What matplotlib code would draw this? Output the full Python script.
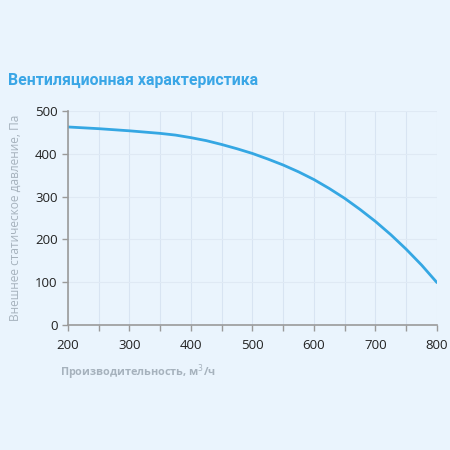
import matplotlib.pyplot as plt
import numpy as np

# Values
flow = [200, 250, 300, 350, 375, 400, 425, 450, 475, 500, 525, 550, 575, 600,
        625, 650, 675, 700, 725, 750, 775, 800]
pressure = [463, 459, 454, 448, 444, 438, 431, 422, 412, 401, 388, 374, 358,
            340, 319, 296, 270, 242, 211, 177, 140, 99]

bg = '#eaf4fd'
blue = '#35a7e3'
grey_txt = '#a6b2bd'

plt.rcParams['font.family'] = ['Open Sans', 'DejaVu Sans']

fig = plt.figure(figsize=(4.5, 4.5), dpi=100, facecolor=bg)
ax = fig.add_axes([0.151, 0.278, 0.82, 0.475], facecolor=bg)

ax.plot(flow, pressure, color=blue, lw=2.0, solid_capstyle='round',
        solid_joinstyle='round')

ax.set_xlim(200, 800)
ax.set_ylim(0, 500)
ax.set_xticks(np.arange(200, 801, 100))
ax.set_xticks(np.arange(250, 800, 100), minor=True)
ax.set_yticks(np.arange(0, 501, 100))

ax.grid(True, which='both', axis='x', color='#d8e4f2', lw=0.8)
ax.grid(True, which='major', axis='y', color='#dfe9f4', lw=0.8)
ax.set_axisbelow(True)

for s in ['top', 'right']:
    ax.spines[s].set_visible(False)
for s in ['left', 'bottom']:
    ax.spines[s].set_color('#9a9a9a')
    ax.spines[s].set_linewidth(1.2)

ax.tick_params(axis='both', which='both', colors='#9a9a9a', labelcolor='#222222',
               labelsize=9.5, length=4, width=1)
ax.tick_params(axis='x', pad=6)

ax.set_xlabel('Производительность, м$^3$/ч', color=grey_txt, fontsize=7.8,
              fontweight='bold', loc='left')
ax.xaxis.set_label_coords(-0.022, -0.175)
ax.set_ylabel('Внешнее статическое давление, Па', color=grey_txt, fontsize=8.6)
ax.yaxis.set_label_coords(-0.125, 0.5)

fig.text(0.018, 0.822, 'Вентиляционная характеристика', color='#3aa6e6',
         fontsize=11.4, fontweight='bold', va='center',
         family=['Roboto', 'DejaVu Sans'])

fig.savefig('out.png', dpi=100, facecolor=bg)
